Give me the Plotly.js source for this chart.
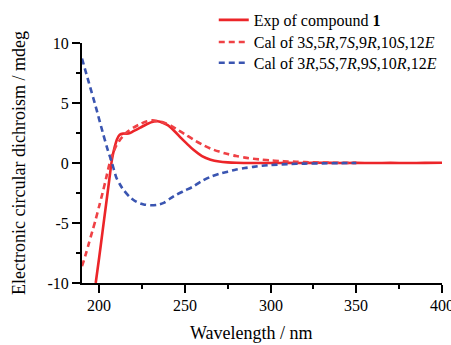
<!DOCTYPE html>
<html>
<head>
<meta charset="utf-8">
<script src="https://cdn.plot.ly/plotly-3.0.1.min.js"></script>
<style>html,body{margin:0;padding:0;background:#fff;}#chart{width:451px;height:345px;}</style>
</head>
<body>
<div id="chart"></div>
<script>
// Experimental ECD of compound 1
const expX = [198, 200, 202, 204, 206, 207.5, 209, 210.5, 212, 214, 216, 218, 220, 224, 228, 232, 234, 236, 240, 244, 248, 251, 255, 260, 265, 270, 275, 280, 290, 300, 310, 320, 330, 340, 350, 360, 370, 380, 390, 400];
const expY = [-10, -7.9, -5.7, -3.5, -1.3, 0.3, 1.3, 2.0, 2.35, 2.45, 2.45, 2.5, 2.65, 2.95, 3.25, 3.45, 3.48, 3.42, 3.15, 2.65, 2.05, 1.64, 1.1, 0.58, 0.28, 0.12, 0.05, 0.02, 0.0, 0.0, 0.01, 0.0, 0.02, 0.0, 0.01, 0.0, 0.01, 0.0, 0.01, 0.02];

// Calculated ECD, 3S,5R,7S,9R,10S,12E
const calAX = [190, 192, 194, 196, 198, 200, 202, 204, 206, 208, 210, 212, 214, 216, 220, 224, 228, 231, 234, 238, 242, 246, 250, 255, 260, 265, 270, 275, 280, 285, 290, 295, 300, 305, 310, 315, 320, 330, 340, 350];
const calAY = [-8.6, -7.7, -6.7, -5.7, -4.7, -3.6, -2.5, -1.3, -0.1, 0.8, 1.45, 1.9, 2.25, 2.55, 2.95, 3.25, 3.48, 3.55, 3.5, 3.35, 3.1, 2.75, 2.4, 1.95, 1.55, 1.2, 0.95, 0.75, 0.58, 0.45, 0.35, 0.28, 0.22, 0.17, 0.13, 0.1, 0.07, 0.04, 0.02, 0.01];

// Calculated ECD, 3R,5S,7R,9S,10R,12E
const calBX = [190, 194, 198, 202, 205, 207.5, 210, 212, 214, 218, 222, 226, 230, 234, 238, 241, 245, 250, 255, 260, 265, 270, 275, 280, 285, 290, 295, 300, 310, 320, 330, 340, 350];
const calBY = [8.7, 6.7, 4.7, 2.6, 1.1, 0.0, -1.2, -1.75, -2.2, -2.85, -3.25, -3.45, -3.52, -3.48, -3.3, -3.0, -2.65, -2.3, -1.95, -1.5, -1.15, -0.9, -0.72, -0.55, -0.42, -0.32, -0.23, -0.17, -0.09, -0.05, -0.03, -0.01, 0.0];

const seriesNames = [
  'Exp of compound <b>1</b>',
  'Cal of 3<i>S</i>,5<i>R</i>,7<i>S</i>,9<i>R</i>,10<i>S</i>,12<i>E</i>',
  'Cal of 3<i>R</i>,5<i>S</i>,7<i>R</i>,9<i>S</i>,10<i>R</i>,12<i>E</i>'
];
const xTitle = 'Wavelength / nm';
const yTitle = 'Electronic circular dichroism / mdeg';
const xTickVals = [200, 250, 300, 350, 400];
const xMinorVals = [225, 275, 325, 375];
const yTickVals = [-10, -5, 0, 5, 10];
const yMinorVals = [-7.5, -2.5, 2.5, 7.5];
const xRange = [190, 400];
const yRange = [-10, 10];

const red = '#ec2529';
const red2 = '#ef4145';
const blue = '#3a55b1';

const traces = [
  {x: expX, y: expY, name: seriesNames[0], legend: 'legend', mode: 'lines', line: {color: red, width: 2.6, shape: 'spline', smoothing: 0.8}},
  {x: calAX, y: calAY, name: seriesNames[1], legend: 'legend2', mode: 'lines', line: {color: red2, width: 2.6, dash: '6px,4px', shape: 'spline', smoothing: 0.8}},
  {x: calBX, y: calBY, name: seriesNames[2], legend: 'legend3', mode: 'lines', line: {color: blue, width: 2.6, dash: '6px,4px', shape: 'spline', smoothing: 0.8}},
  // empty trace that only carries the minor-tick axes
  {x: [], y: [], xaxis: 'x2', yaxis: 'y2', showlegend: false, hoverinfo: 'skip', mode: 'lines'}
];

const fam = 'Liberation Serif';
const f = (size) => ({family: fam, size: size, color: '#000'});
const leg = (y) => ({x: 0.366, xanchor: 'left', y: y, yanchor: 'middle', bgcolor: 'rgba(0,0,0,0)', font: f(16), itemwidth: 30});

// x tick labels placed at the data positions of the axis ticks (the last one runs off the page edge, as in the original)
const xTickLabels = xTickVals.map(v => ({
  xref: 'x', yref: 'paper', x: v, y: -0.092, xanchor: 'center', yanchor: 'middle',
  text: String(v), showarrow: false, font: f(16)
}));

const layout = {
  width: 451, height: 345,
  margin: {l: 82, r: 9, t: 43, b: 62, autoexpand: false},
  paper_bgcolor: '#fff', plot_bgcolor: '#fff',
  font: f(15),
  showlegend: true,
  legend: leg(1.096),
  legend2: leg(1.004),
  legend3: leg(0.917),
  xaxis: {
    range: xRange, tickmode: 'array', tickvals: xTickVals, showticklabels: false,
    showgrid: false, zeroline: false, showline: true, linecolor: '#000', linewidth: 2,
    ticks: 'outside', ticklen: 8, tickwidth: 2, tickcolor: '#000'
  },
  yaxis: {
    range: yRange, tickmode: 'array', tickvals: yTickVals, ticktext: yTickVals.map(String),
    showgrid: false, zeroline: false, showline: true, linecolor: '#000', linewidth: 2,
    ticks: 'outside', ticklen: 8, tickwidth: 2, tickcolor: '#000',
    tickfont: f(16),
    title: {text: yTitle, font: f(18), standoff: 17}
  },
  xaxis2: {
    overlaying: 'x', anchor: 'y', side: 'bottom',
    range: xRange, tickmode: 'array', tickvals: xMinorVals, showticklabels: false,
    showgrid: false, zeroline: false, showline: false,
    ticks: 'outside', ticklen: 5, tickwidth: 2, tickcolor: '#000'
  },
  yaxis2: {
    overlaying: 'y', anchor: 'x', side: 'left',
    range: yRange, tickmode: 'array', tickvals: yMinorVals, showticklabels: false,
    showgrid: false, zeroline: false, showline: false,
    ticks: 'outside', ticklen: 5, tickwidth: 2, tickcolor: '#000'
  },
  annotations: xTickLabels.concat([
    {xref: 'paper', yref: 'paper', x: 0.471, y: -0.208, xanchor: 'center', yanchor: 'middle', text: xTitle, showarrow: false, font: f(18)}
  ])
};

Plotly.newPlot('chart', traces, layout, {displayModeBar: false});
</script>
</body>
</html>
